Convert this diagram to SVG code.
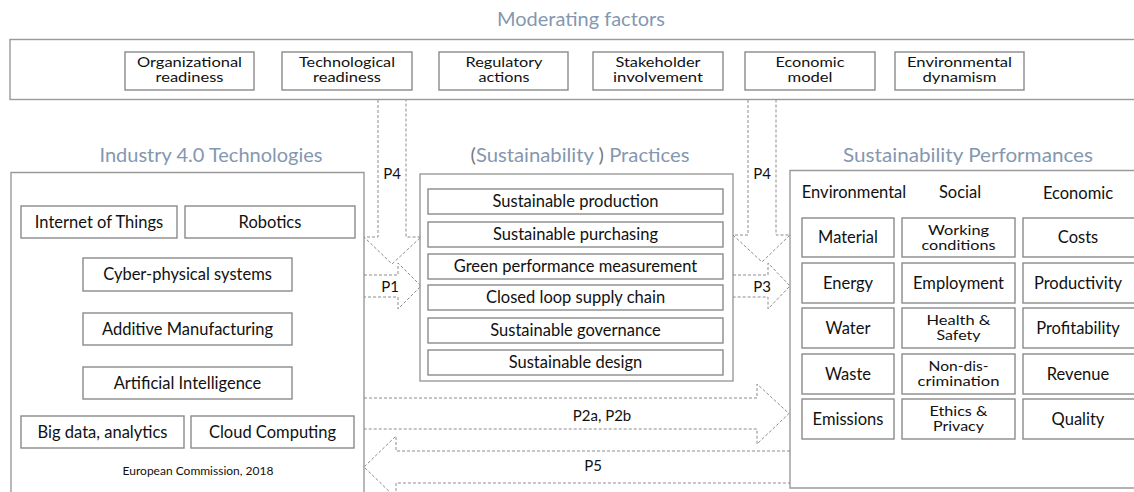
<svg xmlns="http://www.w3.org/2000/svg" width="1134" height="492" viewBox="0 0 1134 492">
<defs>
<style>
.bg{fill:#ffffff}
.box{fill:#ffffff;stroke:#8a8a8a;stroke-width:1.4}
.frame{fill:none;stroke:#9a9a9a;stroke-width:1.4}
.arr{fill:none;stroke:#8c8c8c;stroke-width:1;stroke-dasharray:3 2}
.title{font-family:Lato,"Open Sans",sans-serif;font-size:19px;fill:#8497b0;text-anchor:middle}
.paren{fill:#7a7a7a}
.t{font-family:Lato,"Open Sans",sans-serif;font-size:16.5px;fill:#111111;text-anchor:middle}
.m{font-family:Lato,"Open Sans",sans-serif;font-size:14px;fill:#111111;text-anchor:middle}
.d{font-family:Lato,"Open Sans",sans-serif;font-size:14px;fill:#111111;text-anchor:middle}
.s{font-family:Lato,"Open Sans",sans-serif;font-size:12px;fill:#111111;text-anchor:middle}
.p{font-family:Lato,"Open Sans",sans-serif;font-size:15px;fill:#111111;text-anchor:middle}
</style>
</defs>
<rect class="bg" x="0" y="0" width="1134" height="492"/>

<g id="moderating">
<text class="title" x="581" y="26" textLength="168" lengthAdjust="spacingAndGlyphs">Moderating factors</text>
<rect class="frame" x="10" y="39.5" width="1140" height="60"/>
<g id="m-org"><rect class="box" x="125" y="52" width="129" height="38"/>
<text class="m" x="189.5" y="67" textLength="105" lengthAdjust="spacingAndGlyphs">Organizational</text>
<text class="m" x="189.5" y="82" textLength="68" lengthAdjust="spacingAndGlyphs">readiness</text></g>
<g id="m-tech"><rect class="box" x="282" y="52" width="130" height="38"/>
<text class="m" x="347" y="67" textLength="96" lengthAdjust="spacingAndGlyphs">Technological</text>
<text class="m" x="347" y="82" textLength="68" lengthAdjust="spacingAndGlyphs">readiness</text></g>
<g id="m-reg"><rect class="box" x="439" y="52" width="129" height="38"/>
<text class="m" x="504" y="67" textLength="77" lengthAdjust="spacingAndGlyphs">Regulatory</text>
<text class="m" x="504" y="82" textLength="51" lengthAdjust="spacingAndGlyphs">actions</text></g>
<g id="m-stake"><rect class="box" x="593" y="52" width="130" height="38"/>
<text class="m" x="658" y="67" textLength="85" lengthAdjust="spacingAndGlyphs">Stakeholder</text>
<text class="m" x="658" y="82" textLength="90" lengthAdjust="spacingAndGlyphs">involvement</text></g>
<g id="m-econ"><rect class="box" x="745" y="52" width="130" height="38"/>
<text class="m" x="810" y="67" textLength="69" lengthAdjust="spacingAndGlyphs">Economic</text>
<text class="m" x="810" y="82" textLength="45" lengthAdjust="spacingAndGlyphs">model</text></g>
<g id="m-env"><rect class="box" x="895" y="52" width="129" height="38"/>
<text class="m" x="959.5" y="67" textLength="105" lengthAdjust="spacingAndGlyphs">Environmental</text>
<text class="m" x="959.5" y="82" textLength="74" lengthAdjust="spacingAndGlyphs">dynamism</text></g>
</g>

<g id="industry">
<text class="title" x="211" y="162" textLength="223" lengthAdjust="spacingAndGlyphs">Industry 4.0 Technologies</text>
<path class="frame" d="M11,500 V172.5 H364 V500"/>
<g id="i-iot"><rect class="box" x="21" y="206" width="156" height="32"/><text class="t" x="99" y="228">Internet of Things</text></g>
<g id="i-rob"><rect class="box" x="185" y="206" width="170" height="32"/><text class="t" x="270" y="228">Robotics</text></g>
<g id="i-cps"><rect class="box" x="83" y="258" width="209" height="33"/><text class="t" x="187.5" y="280">Cyber-physical systems</text></g>
<g id="i-am"><rect class="box" x="83" y="313" width="209" height="32"/><text class="t" x="187.5" y="335">Additive Manufacturing</text></g>
<g id="i-ai"><rect class="box" x="83" y="367" width="209" height="32"/><text class="t" x="187.5" y="389">Artificial Intelligence</text></g>
<g id="i-bd"><rect class="box" x="21" y="416" width="163" height="32"/><text class="t" x="102.5" y="438">Big data, analytics</text></g>
<g id="i-cc"><rect class="box" x="191" y="416" width="163" height="32"/><text class="t" x="272.5" y="438">Cloud Computing</text></g>
<text class="s" x="198" y="475">European Commission, 2018</text>
</g>

<g id="practices">
<text class="title" x="580" y="162" textLength="219" lengthAdjust="spacingAndGlyphs"><tspan class="paren">(</tspan>Sustainability <tspan class="paren">)</tspan> Practices</text>
<rect class="frame" x="420" y="174" width="313" height="207"/>
<g id="pr-1"><rect class="box" x="428" y="189" width="295" height="25"/><text class="t" x="575.5" y="207">Sustainable production</text></g>
<g id="pr-2"><rect class="box" x="428" y="222" width="295" height="25"/><text class="t" x="575.5" y="240">Sustainable purchasing</text></g>
<g id="pr-3"><rect class="box" x="428" y="254" width="295" height="25"/><text class="t" x="575.5" y="272">Green performance measurement</text></g>
<g id="pr-4"><rect class="box" x="428" y="285" width="295" height="25"/><text class="t" x="575.5" y="303">Closed loop supply chain</text></g>
<g id="pr-5"><rect class="box" x="428" y="318" width="295" height="25"/><text class="t" x="575.5" y="336">Sustainable governance</text></g>
<g id="pr-6"><rect class="box" x="428" y="350" width="295" height="25"/><text class="t" x="575.5" y="368">Sustainable design</text></g>
</g>

<g id="performances">
<text class="title" x="968" y="162" textLength="250" lengthAdjust="spacingAndGlyphs">Sustainability Performances</text>
<path class="frame" d="M1150,488 H790 V170.5 H1150"/>
<text class="t" x="854" y="198">Environmental</text>
<text class="t" x="960" y="198">Social</text>
<text class="t" x="1078" y="199">Economic</text>
<g id="c-material"><rect class="box" x="802" y="218" width="92" height="39"/><text class="t" x="848" y="243">Material</text></g>
<g id="c-working"><rect class="box" x="902" y="218" width="113" height="39"/><text class="d" x="958.5" y="235" textLength="61" lengthAdjust="spacingAndGlyphs">Working</text><text class="d" x="958.5" y="250" textLength="74" lengthAdjust="spacingAndGlyphs">conditions</text></g>
<g id="c-costs"><rect class="box" x="1023" y="218" width="120" height="39"/><text class="t" x="1078" y="243">Costs</text></g>
<g id="c-energy"><rect class="box" x="802" y="263" width="92" height="40"/><text class="t" x="848" y="289">Energy</text></g>
<g id="c-employment"><rect class="box" x="902" y="263" width="113" height="40"/><text class="t" x="958.5" y="289">Employment</text></g>
<g id="c-productivity"><rect class="box" x="1023" y="263" width="120" height="40"/><text class="t" x="1078" y="289">Productivity</text></g>
<g id="c-water"><rect class="box" x="802" y="308" width="92" height="40"/><text class="t" x="848" y="334">Water</text></g>
<g id="c-health"><rect class="box" x="902" y="308" width="113" height="40"/><text class="d" x="958.5" y="325" textLength="64" lengthAdjust="spacingAndGlyphs">Health &amp;</text><text class="d" x="958.5" y="340" textLength="44" lengthAdjust="spacingAndGlyphs">Safety</text></g>
<g id="c-profit"><rect class="box" x="1023" y="308" width="120" height="40"/><text class="t" x="1078" y="334">Profitability</text></g>
<g id="c-waste"><rect class="box" x="802" y="354" width="92" height="40"/><text class="t" x="848" y="380">Waste</text></g>
<g id="c-nondisc"><rect class="box" x="902" y="354" width="113" height="40"/><text class="d" x="958.5" y="371" textLength="60" lengthAdjust="spacingAndGlyphs">Non-dis-</text><text class="d" x="958.5" y="386" textLength="82" lengthAdjust="spacingAndGlyphs">crimination</text></g>
<g id="c-revenue"><rect class="box" x="1023" y="354" width="120" height="40"/><text class="t" x="1078" y="380">Revenue</text></g>
<g id="c-emissions"><rect class="box" x="802" y="399" width="92" height="40"/><text class="t" x="848" y="425">Emissions</text></g>
<g id="c-ethics"><rect class="box" x="902" y="399" width="113" height="40"/><text class="d" x="958.5" y="416" textLength="58" lengthAdjust="spacingAndGlyphs">Ethics &amp;</text><text class="d" x="958.5" y="431" textLength="51" lengthAdjust="spacingAndGlyphs">Privacy</text></g>
<g id="c-quality"><rect class="box" x="1023" y="399" width="120" height="40"/><text class="t" x="1078" y="425">Quality</text></g>
</g>

<g id="connectors">
<path class="arr" d="M378,100 V237 H364 L392,264 L421,237 H406 V100"/>
<path class="arr" d="M748,100 V235 H733 L762,262 L790,235 H776 V100"/>
<path class="arr" d="M364,275 H398 V263 L421,286 L398,309 V297 H364"/>
<path class="arr" d="M733,275 H768 V263 L790,286 L768,309 V297 H733"/>
<path class="arr" d="M364,398 H757 V384 L789,413.5 L757,444 V429 H364"/>
<path class="arr" d="M790,451 H396 V436 L364,467 L396,498 V483 H790"/>
<text class="p" x="392" y="179">P4</text>
<text class="p" x="762" y="179">P4</text>
<text class="p" x="390" y="292">P1</text>
<text class="p" x="762" y="292">P3</text>
<text class="p" x="602" y="421">P2a, P2b</text>
<text class="p" x="593" y="471">P5</text>
</g>
</svg>
